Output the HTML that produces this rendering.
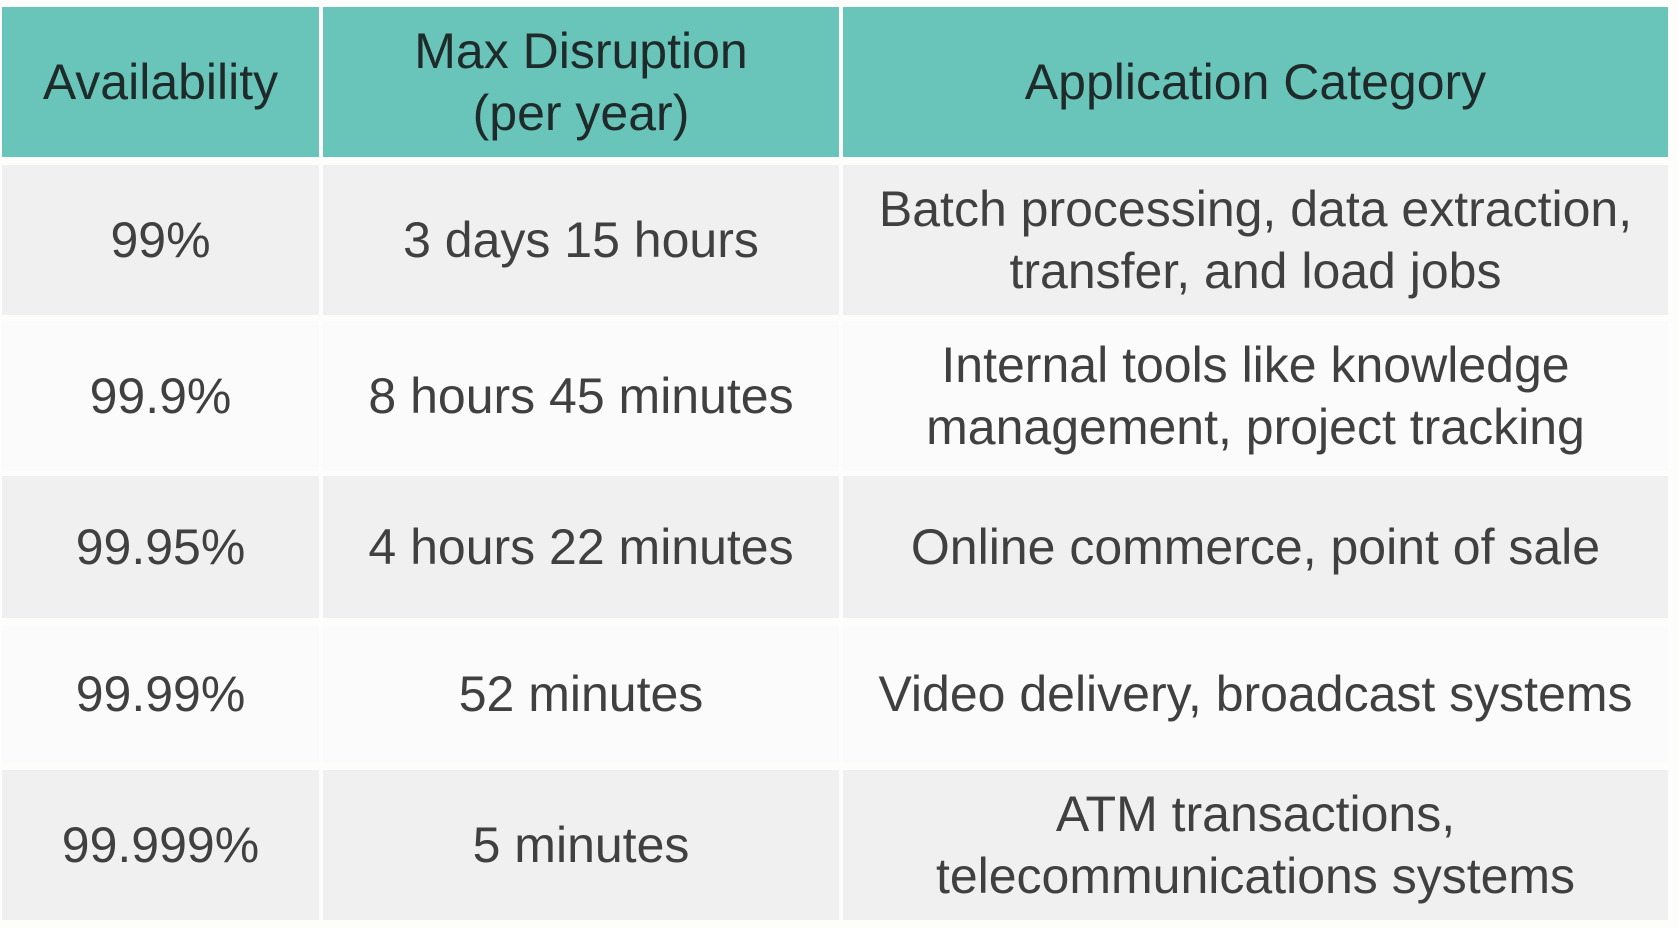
<!DOCTYPE html>
<html><head><meta charset="utf-8"><style>
html,body{margin:0;padding:0;background:#fdfdfc;}
body{width:1678px;height:928px;position:relative;overflow:hidden;font-family:"Liberation Sans",sans-serif;color:#404040;}
.c{position:absolute;display:flex;align-items:center;justify-content:center;text-align:center;font-size:50px;line-height:62px;letter-spacing:0px;}
.h{background:#69c5b9;color:#1f2a2a;}
.g{background:#f0f0f0;}
.w{background:#fbfbfb;}
</style></head><body>
<div class="c h" style="left:2px;top:7px;width:317px;height:150px">Availability</div>
<div class="c h" style="left:323px;top:7px;width:516px;height:150px">Max Disruption<br>(per year)</div>
<div class="c h" style="left:843px;top:7px;width:825px;height:150px">Application Category</div>

<div class="c g" style="left:2px;top:165px;width:317px;height:150px">99%</div>
<div class="c g" style="left:323px;top:165px;width:516px;height:150px">3 days 15 hours</div>
<div class="c g" style="left:843px;top:165px;width:825px;height:150px">Batch processing, data extraction,<br>transfer, and load jobs</div>

<div class="c w" style="left:2px;top:321px;width:317px;height:150px">99.9%</div>
<div class="c w" style="left:323px;top:321px;width:516px;height:150px">8 hours 45 minutes</div>
<div class="c w" style="left:843px;top:321px;width:825px;height:150px">Internal tools like knowledge<br>management, project tracking</div>

<div class="c g" style="left:2px;top:476px;width:317px;height:142px">99.95%</div>
<div class="c g" style="left:323px;top:476px;width:516px;height:142px">4 hours 22 minutes</div>
<div class="c g" style="left:843px;top:476px;width:825px;height:142px">Online commerce, point of sale</div>

<div class="c w" style="left:2px;top:626px;width:317px;height:136px">99.99%</div>
<div class="c w" style="left:323px;top:626px;width:516px;height:136px">52 minutes</div>
<div class="c w" style="left:843px;top:626px;width:825px;height:136px">Video delivery, broadcast systems</div>

<div class="c g" style="left:2px;top:770px;width:317px;height:150px">99.999%</div>
<div class="c g" style="left:323px;top:770px;width:516px;height:150px">5 minutes</div>
<div class="c g" style="left:843px;top:770px;width:825px;height:150px">ATM transactions,<br>telecommunications systems</div>
</body></html>
